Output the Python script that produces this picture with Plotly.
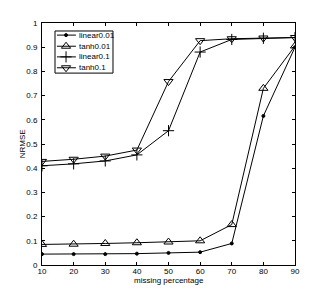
import plotly.graph_objects as go

x_vals = [10, 20, 30, 40, 50, 60, 70, 80, 90]
linear001 = [0.045, 0.045, 0.045, 0.047, 0.050, 0.053, 0.089, 0.616, 0.900]
tanh001 = [0.085, 0.086, 0.089, 0.092, 0.095, 0.100, 0.167, 0.730, 0.905]
linear01 = [0.410, 0.418, 0.430, 0.455, 0.555, 0.880, 0.932, 0.937, 0.940]
tanh01 = [0.428, 0.437, 0.450, 0.475, 0.758, 0.927, 0.935, 0.938, 0.940]
x_ticks = [10, 20, 30, 40, 50, 60, 70, 80, 90]
y_ticks = [0, 0.1, 0.2, 0.3, 0.4, 0.5, 0.6, 0.7, 0.8, 0.9, 1]
y_tick_text = ["0", "0.1", "0.2", "0.3", "0.4", "0.5", "0.6", "0.7", "0.8", "0.9", "1"]
series_names = ["linear0.01", "tanh0.01", "linear0.1", "tanh0.1"]

FONT = "Liberation Sans, Arial, sans-serif"
symbols = ["circle", "triangle-up-open", "cross-thin-open", "triangle-down-open"]
sizes = [3, 8, 8, 8]
series_vals = [linear001, tanh001, linear01, tanh01]

fig = go.Figure()
for name, ys, sym, sz in zip(series_names, series_vals, symbols, sizes):
    fig.add_trace(go.Scatter(
        x=x_vals, y=ys, name=name, mode="lines+markers", showlegend=False,
        line=dict(color="black", width=1),
        marker=dict(symbol=sym, size=sz, color="black",
                    line=dict(color="black", width=1)),
    ))

# manual legend (MATLAB-style compact box)
leg_x0, leg_x1, leg_y0, leg_y1 = 0.0514, 0.2806, 0.793, 0.967
row_y = [0.950, 0.904, 0.860, 0.815]
ln_x0, ln_x1, mk_x, txt_x = 0.059, 0.134, 0.095, 0.138
shapes = [dict(type="rect", xref="paper", yref="paper", x0=leg_x0, x1=leg_x1,
               y0=leg_y0, y1=leg_y1, line=dict(color="black", width=1),
               fillcolor="white", layer="below")]
annotations = []
for i, name in enumerate(series_names):
    shapes.append(dict(type="line", xref="paper", yref="paper", x0=ln_x0, x1=ln_x1,
                       y0=row_y[i], y1=row_y[i], line=dict(color="black", width=1)))
    annotations.append(dict(xref="paper", yref="paper", x=txt_x, y=row_y[i],
                            text=name, showarrow=False, xanchor="left", yanchor="middle",
                            font=dict(family=FONT, size=8, color="black")))
    fig.add_trace(go.Scatter(
        x=[mk_x], y=[row_y[i]], xaxis="x2", yaxis="y2", mode="markers", showlegend=False,
        marker=dict(symbol=symbols[i], size=sizes[i], color="black",
                    line=dict(color="black", width=1)),
        hoverinfo="skip",
    ))

# axis titles
annotations.append(dict(xref="paper", yref="paper", x=0.5, y=-0.066, yanchor="middle",
                        text="missing percentage", showarrow=False,
                        font=dict(family=FONT, size=8, color="black")))
annotations.append(dict(xref="paper", yref="paper", x=-0.078, y=0.5, xanchor="center",
                        text="NRMSE", showarrow=False, textangle=-90,
                        font=dict(family=FONT, size=8, color="black")))

axis_common = dict(
    showline=True, linecolor="black", linewidth=1, mirror="ticks",
    ticks="inside", ticklen=3, tickcolor="black", showgrid=False, zeroline=False,
    automargin=False,
    tickfont=dict(family=FONT, size=8, color="black"),
)
fig.update_xaxes(range=[10, 90], tickvals=x_ticks, ticklabelstandoff=-2, **axis_common)
fig.update_yaxes(range=[0, 1], tickvals=y_ticks, ticktext=y_tick_text,
                 ticklabelstandoff=2, **axis_common)

fig.update_layout(
    width=327, height=298,
    margin=dict(l=42, r=32, t=23, b=33),
    paper_bgcolor="white", plot_bgcolor="white",
    showlegend=False,
    xaxis2=dict(range=[0, 1], overlaying="x", visible=False, fixedrange=True),
    yaxis2=dict(range=[0, 1], overlaying="y", visible=False, fixedrange=True),
    shapes=shapes, annotations=annotations,
)

fig.write_html("out.html", config={"displayModeBar": False},
               post_script="document.body.style.margin='0';")
